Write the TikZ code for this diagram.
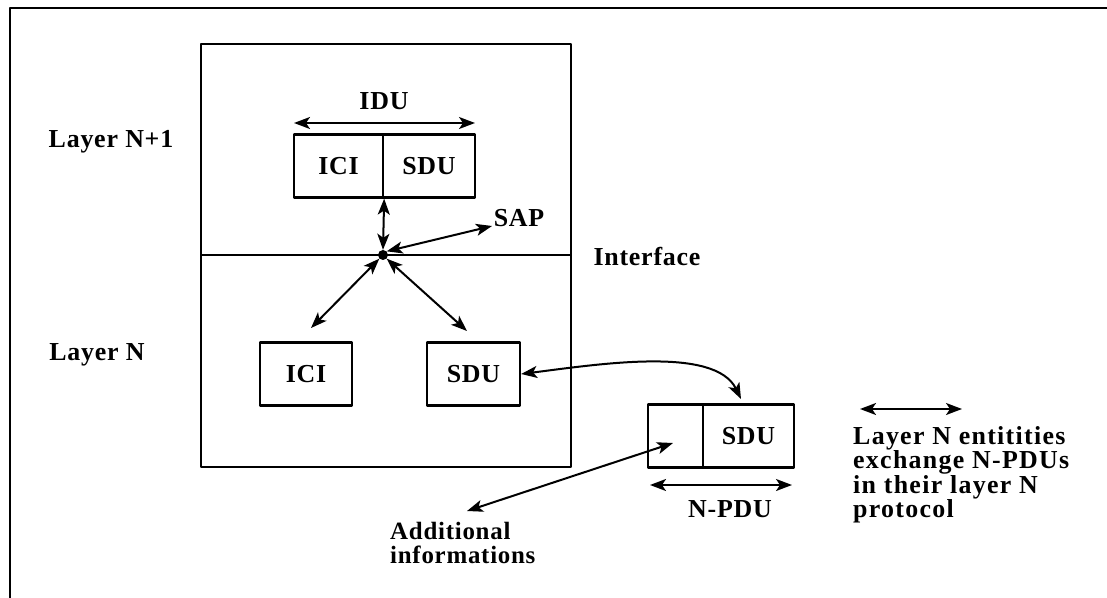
\documentclass[tikz,border=0pt]{standalone}
\usepackage{fontspec}
\setmainfont{Liberation Serif}[LetterSpace=3]
\usepackage{tikz}
\usetikzlibrary{arrows,arrows.meta}

\begin{document}
\begin{tikzpicture}[x=1bp,y=-1bp,line join=bevel,
  every node/.style={font=\fontsize{26}{28}\selectfont\bfseries},
  unit/.style={draw,line width=2.3bp,inner sep=0pt,minimum height=63bp},
  link/.style={line width=2bp,{Stealth[length=16bp,width=12bp,inset=4bp]}-{Stealth[length=16bp,width=12bp,inset=4bp]}},
  lbl/.style={inner sep=0pt}]
%%
\useasboundingbox (0,0) rectangle (1107,598);
\draw [line width=1.6bp] (10,598) -- (10,8) -- (1107,8);
%% layer box
  \node (layers) at (386,255.5) [draw,line width=2.3bp,minimum width=370bp,minimum height=423bp] {};
  \coordinate (ifl) at (201,255);
  \coordinate (ifr) at (571,255);
  \draw [line width=2bp] (ifl) -- (ifr);
  \node (lnp1) at (111,142) [lbl] {Layer N+1};
  \node (ln) at (97,355) [lbl] {Layer N};
  \node (iface) at (647,257) [lbl] {Interface};
%% IDU
  \node (ici1) at (338.5,166) [unit,minimum width=89bp] {ICI};
  \node (sdu1) at (429,166) [unit,minimum width=92bp] {SDU};
  \node (idu) at (384,101) [lbl] {IDU};
  \coordinate (idul) at (294,123);
  \coordinate (idur) at (475,123);
  \draw [link] (idul) -- (idur);
%% SAP
  \node (sap) at (383,255) [circle,fill,inner sep=0pt,minimum size=10bp] {};
  \node (saplbl) at (519,218) [lbl] {SAP};
  \coordinate (sapend) at (492,226);
  \draw [link] (ici1.south east) -- (sap.north);
  \draw [link] (sap.north east) -- (sapend);
%% layer N
  \node (ici2) at (306,374) [unit,minimum width=92bp] {ICI};
  \node (sdu2) at (473.5,374) [unit,minimum width=93bp] {SDU};
  \coordinate (tici) at (311,328);
  \coordinate (tsdu) at (467,331);
  \draw [link] (sap.south west) -- (tici);
  \draw [link] (sap.south east) -- (tsdu);
%% N-PDU
  \node (hdr) at (675.5,436) [unit,minimum width=55bp,minimum height=63bp] {};
  \node (sdu3) at (748.5,436) [unit,minimum width=91bp,minimum height=63bp] {SDU};
  \coordinate (tpdu) at (741,399);
  \draw [link] (sdu2.east) ..controls (600,364) and (715,346) .. (tpdu);
  \coordinate (npdul) at (650,485);
  \coordinate (npdur) at (792,485);
  \draw [link] (npdul) -- (npdur);
  \node (npdu) at (730,509) [lbl] {N-PDU};
  \coordinate (addhead) at (673,443);
  \coordinate (addtail) at (467,511);
  \draw [link] (addtail) -- (addhead);
  \node (addinfo) at (390,522) [lbl,anchor=north west,align=left,
    font=\fontsize{25}{24}\selectfont\bfseries] {Additional\\informations};
%% legend
  \coordinate (legl) at (860,409);
  \coordinate (legr) at (962,409);
  \draw [link] (legl) -- (legr);
  \node (legtxt) at (853,426) [lbl,anchor=north west,align=left,
    font=\fontsize{26}{23}\selectfont\bfseries\addfontfeatures{LetterSpace=5}] {Layer N entitities\\exchange N-PDUs\\in their layer N\\protocol};
%
\end{tikzpicture}
\end{document}
